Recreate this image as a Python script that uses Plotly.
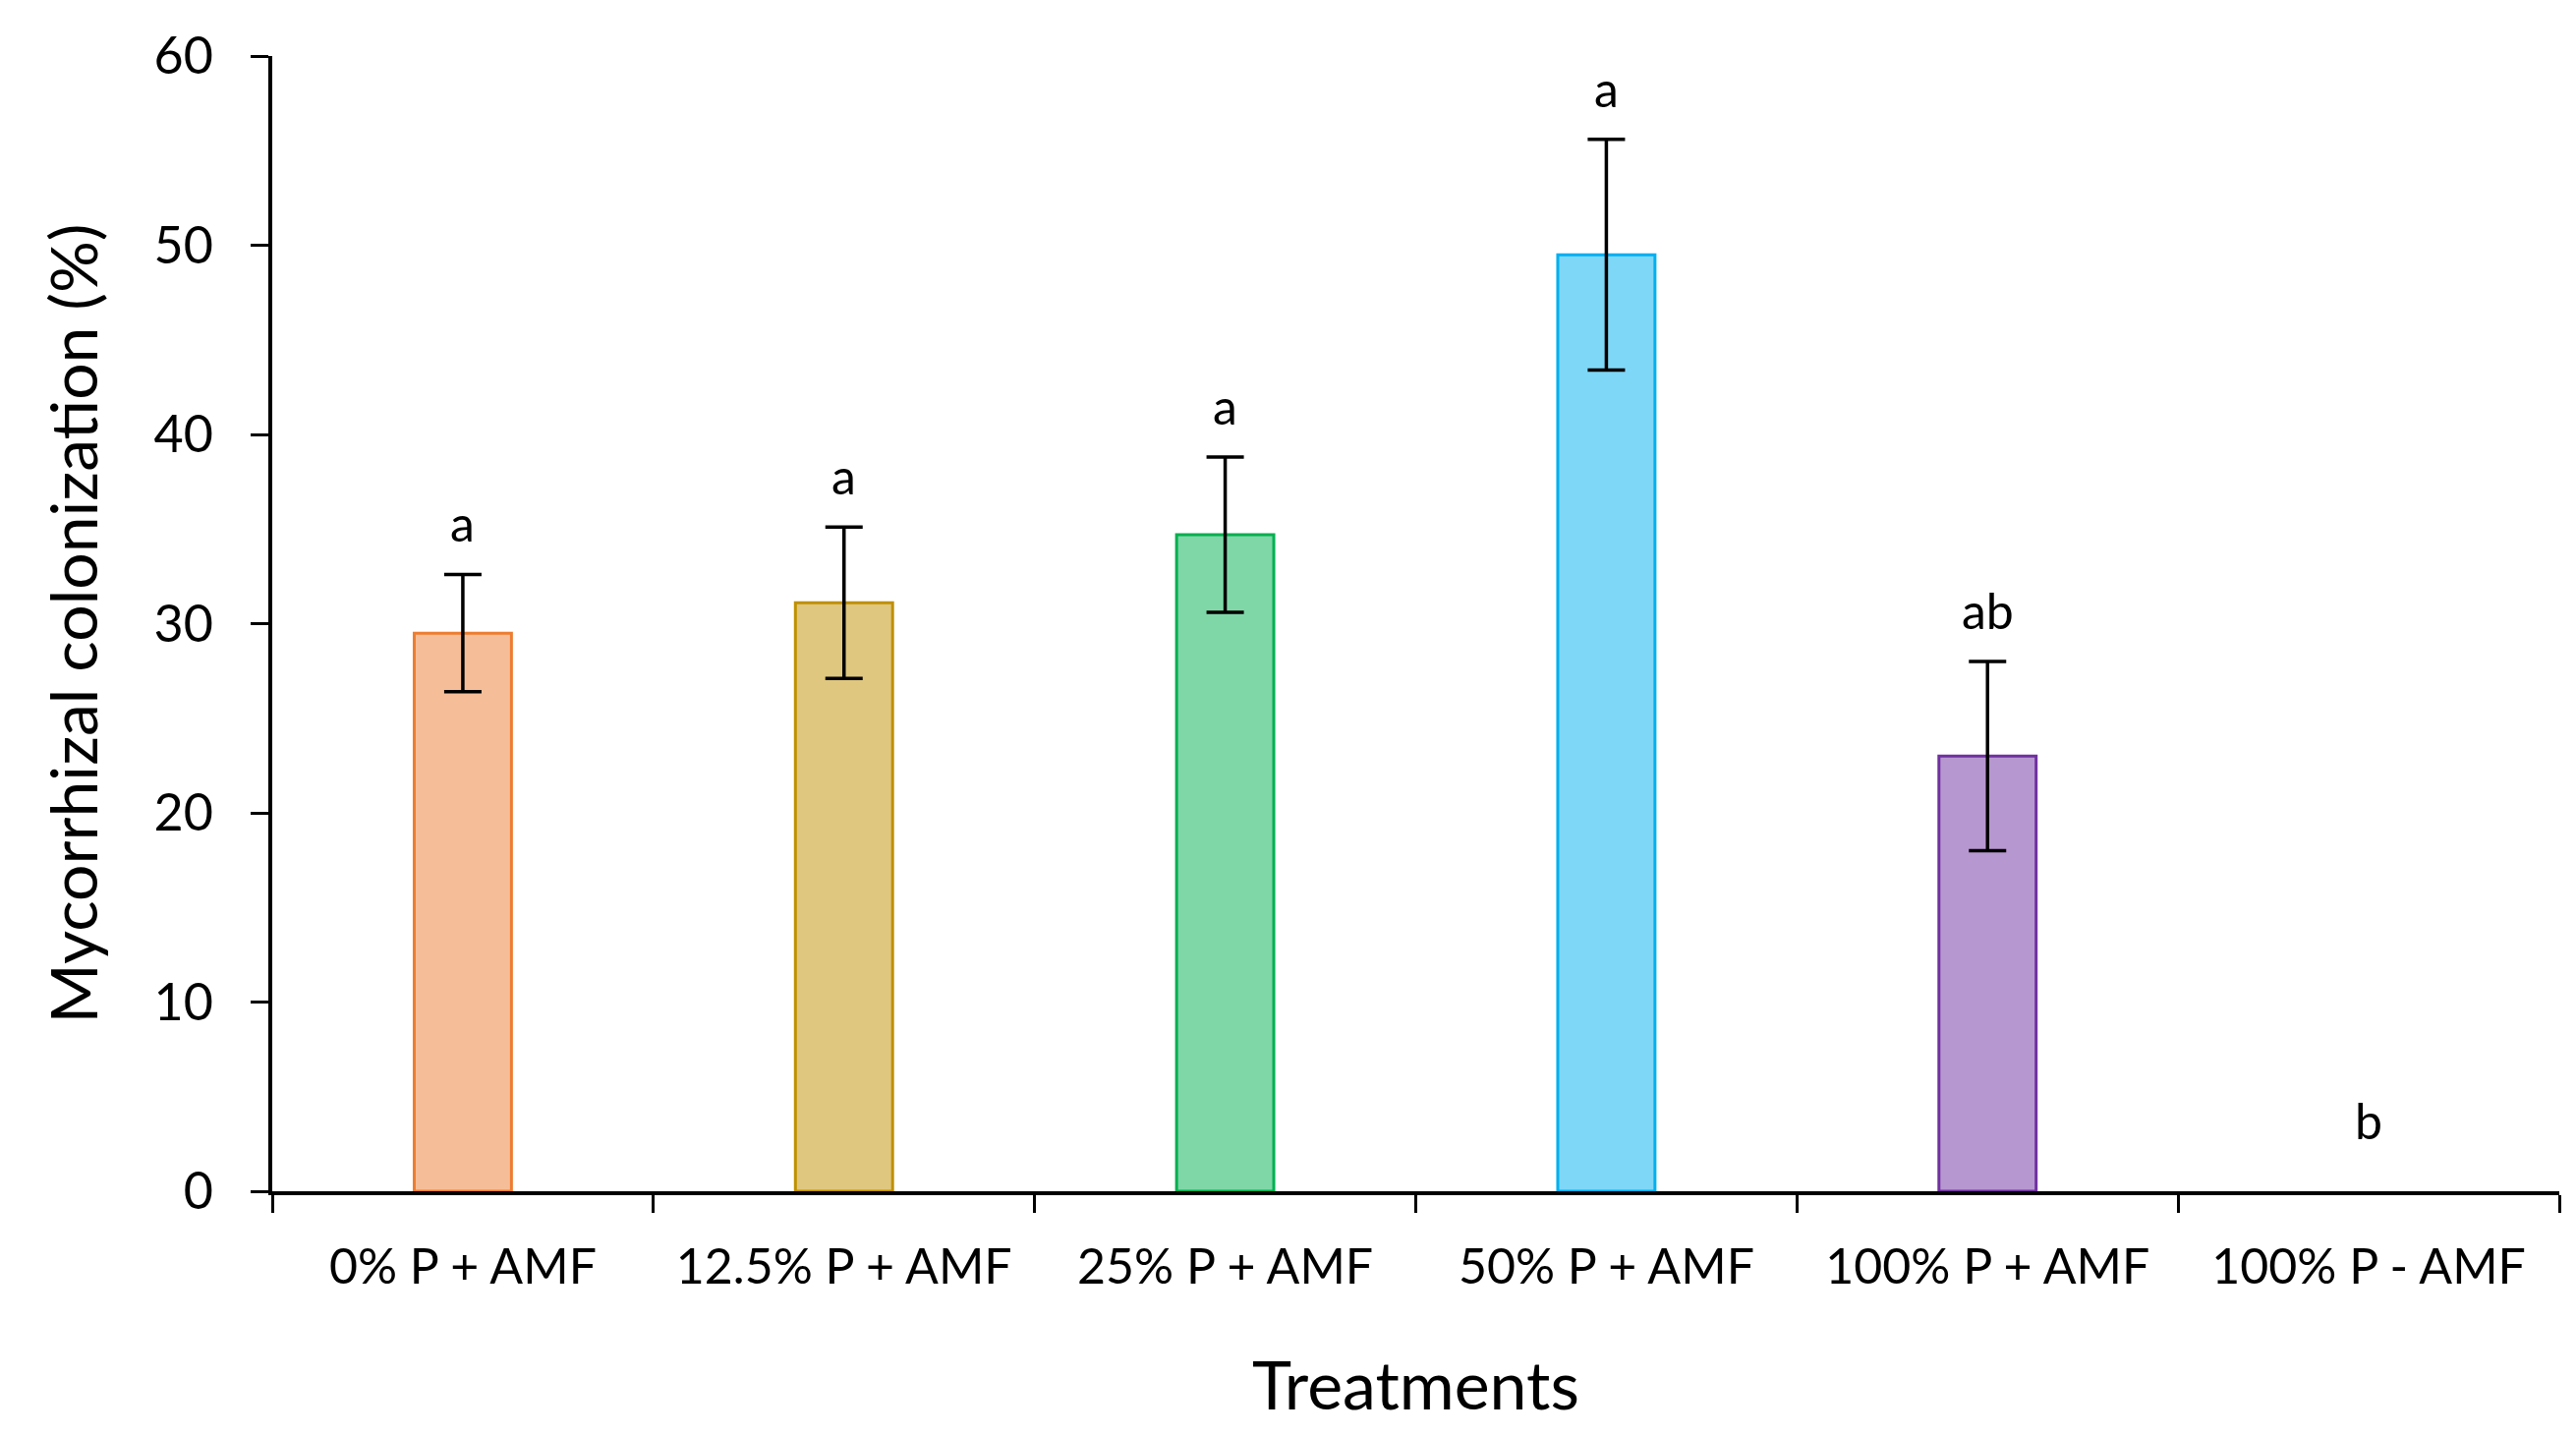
import plotly.graph_objects as go

categories = ["0% P + AMF", "12.5% P + AMF", "25% P + AMF", "50% P + AMF", "100% P + AMF", "100% P - AMF"]
means = [29.5, 31.1, 34.7, 49.5, 23.0, 0.0]
errors = [3.1, 4.0, 4.1, 6.1, 5.0, 0.0]
letters = ["a", "a", "a", "a", "ab", "b"]
fill_colors = ["#F6BE98", "#DFC77F", "#7FD7A7", "#7FD7F7", "#B797CF", "#FFFFFF"]
line_colors = ["#ED7D31", "#BF9000", "#00B050", "#00B0F0", "#7030A0", "#FFFFFF"]
y_ticks = [0, 10, 20, 30, 40, 50, 60]

FONT = "Lato"

fig = go.Figure()
fig.add_trace(go.Bar(
    x=categories,
    y=means,
    width=0.255,
    marker=dict(color=fill_colors,
                line=dict(color=line_colors, width=[3 if m > 0 else 0 for m in means])),
    showlegend=False,
))

err_idx = [i for i, e in enumerate(errors) if e > 0]
fig.add_trace(go.Scatter(
    x=[categories[i] for i in err_idx],
    y=[means[i] for i in err_idx],
    mode="markers",
    marker=dict(size=1, opacity=0),
    error_y=dict(type="data", array=[errors[i] for i in err_idx], visible=True,
                 color="black", thickness=3.5, width=19),
    showlegend=False, hoverinfo="skip",
))

for cat, m, e, lab in zip(categories, means, errors, letters):
    fig.add_annotation(
        x=cat, y=m + e, xref="x", yref="y", text=lab, showarrow=False,
        yanchor="bottom", yshift=20 if e > 0 else 40,
        font=dict(family=FONT, size=50, color="black"),
    )

fig.update_layout(
    width=2621, height=1460,
    margin=dict(l=269, r=25, t=49, b=256),
    paper_bgcolor="white", plot_bgcolor="white",
    font=dict(family=FONT, color="black"),
    bargap=0.745,
)
fig.update_xaxes(
    showline=True, linecolor="black", linewidth=3.5,
    ticks="outside", tickson="boundaries", ticklen=18, tickwidth=3, tickcolor="black",
    tickfont=dict(family=FONT, size=50, color="black"),
    ticklabelstandoff=30,
    title=dict(text="Treatments", font=dict(family=FONT, size=68, color="black"), standoff=72),
    showgrid=False, zeroline=False, automargin=False,
)
fig.update_yaxes(
    range=[0, 60], tickvals=y_ticks,
    showline=True, linecolor="black", linewidth=3.5,
    ticks="outside", ticklen=18, tickwidth=3, tickcolor="black",
    tickfont=dict(family=FONT, size=52, color="black"),
    ticklabelstandoff=28,
    title=dict(text="Mycorrhizal colonization (%)", font=dict(family=FONT, size=66, color="black"), standoff=36),
    showgrid=False, zeroline=False, automargin=False,
)

fig.write_html("out.html")
